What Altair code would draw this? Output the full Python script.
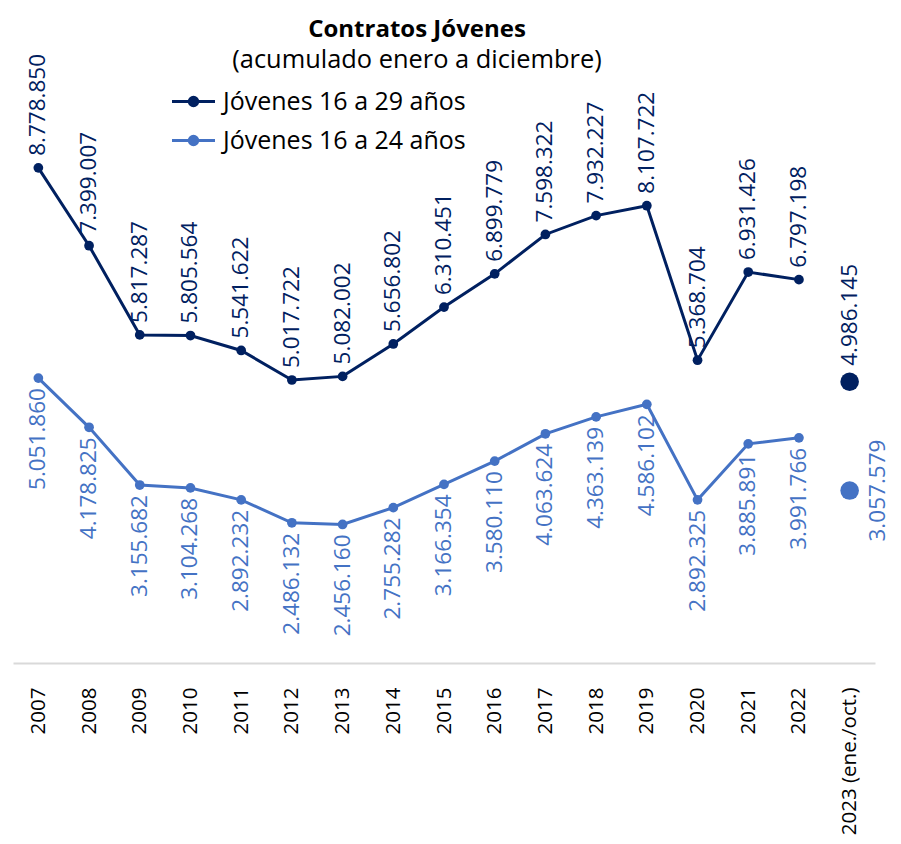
import altair as alt
import pandas as pd

years = ["2007", "2008", "2009", "2010", "2011", "2012", "2013", "2014", "2015",
         "2016", "2017", "2018", "2019", "2020", "2021", "2022", "2023 (ene./oct.)"]
series = ["Jóvenes 16 a 29 años", "Jóvenes 16 a 24 años"]
v29 = [8778850, 7399007, 5817287, 5805564, 5541622, 5017722, 5082002, 5656802, 6310451,
       6899779, 7598322, 7932227, 8107722, 5368704, 6931426, 6797198, 4986145]
v24 = [5051860, 4178825, 3155682, 3104268, 2892232, 2486132, 2456160, 2755282, 3166354,
       3580110, 4063624, 4363139, 4586102, 2892325, 3885891, 3991766, 3057579]
colors = ["#002060", "#4472C4"]

rows = []
for s, vals in zip(series, [v29, v24]):
    for yr, v in zip(years, vals):
        rows.append({
            "year": yr, "serie": s, "value": v,
            "label": f"{v:,}".replace(",", "."),
            "partial": yr.startswith("2023"),
        })
df = pd.DataFrame(rows)

FONT = "Open Sans"

x = alt.X("year:N", sort=years,
          scale=alt.Scale(type="point", padding=0.5),
          axis=alt.Axis(title=None, labelAngle=270, labelAlign="right", labelBaseline="middle",
                        labelFontSize=20.5, labelFont=FONT, labelColor="#000000",
                        labelPadding=24, ticks=False, tickSize=0,
                        domainColor="#d9d9d9", domainWidth=2, grid=False, labelLimit=400))
y = alt.Y("value:Q", scale=alt.Scale(domain=[0, 10000000], nice=False, zero=True), axis=None)

legend_path = ("M-2.15,0L2.15,0"
               "M0.42,0A0.42,0.42,0,1,1,-0.42,0A0.42,0.42,0,1,1,0.42,0"
               "M0.28,0A0.28,0.28,0,1,1,-0.28,0A0.28,0.28,0,1,1,0.28,0"
               "M0.12,0A0.12,0.12,0,1,1,-0.12,0A0.12,0.12,0,1,1,0.12,0")

color = alt.Color("serie:N", scale=alt.Scale(domain=series, range=colors),
                  legend=alt.Legend(title=None, orient="none", legendX=168, legendY=-10,
                                    symbolType=legend_path, symbolSize=400, symbolStrokeWidth=3,
                                    labelFontSize=25, labelFont=FONT, labelColor="#000000",
                                    labelOffset=17, rowPadding=13, padding=0, labelLimit=400))

base = alt.Chart(df)
full = base.transform_filter("!datum.partial")

lines = full.mark_line(strokeWidth=3, point=alt.OverlayMarkDef(size=95, filled=True, opacity=1)).encode(
    x=x, y=y, color=color)

layers = [lines]
for i, s in enumerate(series):
    part = base.transform_filter(f"datum.partial && datum.serie == '{s}'")
    layers.append(part.mark_circle(size=346, opacity=1, color=colors[i]).encode(x=x, y=y))

lab_kw = dict(angle=270, baseline="middle", font=FONT, fontSize=22.5)
s0_full = base.transform_filter(f"!datum.partial && datum.serie == '{series[0]}'")
s0_part = base.transform_filter(f"datum.partial && datum.serie == '{series[0]}'")
s1_full = base.transform_filter(f"!datum.partial && datum.serie == '{series[1]}'")
s1_part = base.transform_filter(f"datum.partial && datum.serie == '{series[1]}'")

layers.append(s0_full.mark_text(align="left", dx=12, color=colors[0], **lab_kw).encode(x=x, y=y, text="label:N"))
layers.append(s0_part.mark_text(align="left", dx=16, color=colors[0], **lab_kw).encode(x=x, y=y, text="label:N"))
layers.append(s1_full.mark_text(align="right", dx=-10, color=colors[1], **lab_kw).encode(x=x, y=y, text="label:N"))
layers.append(s1_part.mark_text(align="center", dy=28, color=colors[1], **lab_kw).encode(x=x, y=y, text="label:N"))

chart = alt.layer(*layers).properties(
    width=862, height=564,
    padding={"left": 5, "top": 91, "right": 18, "bottom": 172},
    autosize=alt.AutoSizeParams(type="none"),
    background="white",
    title=alt.TitleParams(text="Contratos Jóvenes", subtitle="(acumulado enero a diciembre)",
                          font=FONT, fontSize=24, fontWeight="bold", color="#000000",
                          subtitleFont=FONT, subtitleFontSize=25.4, subtitleColor="#000000",
                          anchor="middle", dx=-27, offset=-19, subtitlePadding=6),
).configure_view(stroke=None)

chart.save("out.html", embed_options={"renderer": "svg", "actions": False})
